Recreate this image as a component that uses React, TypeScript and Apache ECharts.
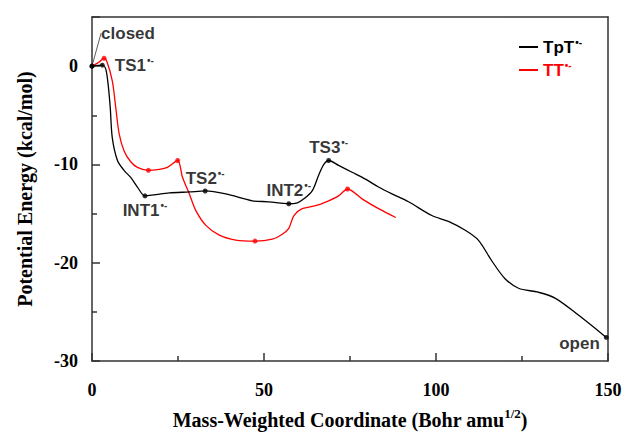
import React, { useEffect, useRef } from "react";
import * as echarts from "echarts";

// TpT•- pathway (x: mass-weighted coordinate, y: kcal/mol)
const tptX = [0, 3.0, 4.0, 4.7, 5.3, 5.9, 7.4, 9.3, 11.2, 13.2, 15.4, 18, 22.5, 28.3, 32.9, 38.9, 46.6, 51.4, 57.2, 59.7, 61.6, 64, 66, 67.4, 68.8, 71.7, 75.6, 79.5, 83.3, 87.2, 92, 98.8, 103.6, 108.5, 112.3, 116.2, 120, 124, 129.7, 134.6, 141.3, 149.5];
const tptY = [0, 0.1, -0.3, -1.9, -4.2, -7.3, -9.6, -10.6, -11.3, -12.3, -13.2, -13.1, -12.9, -12.8, -12.7, -13.0, -13.7, -13.8, -14.0, -13.9, -13.5, -12.7, -11.0, -10.0, -9.6, -10.1, -10.8, -11.5, -12.3, -13.0, -13.8, -15.2, -15.8, -16.7, -17.7, -19.8, -21.6, -22.6, -23.0, -23.6, -25.3, -27.6];

// TT•- pathway
const ttX = [0, 2, 3.5, 4.3, 5.9, 6.9, 7.9, 9.3, 11.2, 13.2, 16.4, 19.5, 21.9, 24.9, 26.3, 28.3, 30.2, 33.1, 37, 41.8, 47.4, 52.4, 55.3, 57.2, 58.7, 61.1, 65, 68.8, 71.7, 74.3, 78.5, 83.3, 88.3];
const ttY = [0, 0.4, 0.8, 0.5, -1.5, -4.2, -6.9, -8.6, -9.7, -10.3, -10.6, -10.5, -10.3, -9.6, -11.3, -13.0, -14.7, -16.2, -17.2, -17.7, -17.8, -17.6, -17.1, -16.5, -15.2, -14.5, -14.2, -13.7, -13.2, -12.5, -13.5, -14.5, -15.4];

// Stationary points
const tptKeyNames = ["closed", "TS1", "INT1", "TS2", "INT2", "TS3", "open"];
const tptKeyX = [0, 3.0, 15.4, 32.9, 57.2, 68.8, 149.5];
const tptKeyY = [0, 0.1, -13.2, -12.7, -14.0, -9.6, -27.6];
const ttKeyX = [3.5, 16.4, 24.9, 47.4, 74.3];
const ttKeyY = [0.8, -10.6, -9.6, -17.8, -12.5];

const seriesNames = ["TpT", "TT"];
const radicalSup = "•-";
const xTicks = [0, 50, 100, 150];
const yTicks = [-30, -20, -10, 0];

const SANS = "'Liberation Sans', Arial, sans-serif";
const SERIF = "'Liberation Serif', 'Times New Roman', serif";
const AXIS_COLOR = "#333";

const richStyles = {
  b: { fontFamily: SANS, fontSize: 17, fontWeight: "bold", color: "#000", lineHeight: 20 },
  s: { fontFamily: SANS, fontSize: 10, fontWeight: "bold", color: "#000", verticalAlign: "top", lineHeight: 20, padding: [0, 0, 8, 1] },
};

const labelPos: Record<string, any> = {
  closed: { position: "inside" },
  TS1: { position: "right", distance: 10 },
  INT1: { position: "bottom", distance: 2 },
  TS2: { position: "top", distance: 0 },
  INT2: { position: "top", distance: 1 },
  TS3: { position: "top", distance: 0 },
  open: { position: "left", distance: 4, offset: [0, 6] },
};

const frameAxis = {
  show: true,
  axisLine: { show: true, onZero: false, lineStyle: { color: AXIS_COLOR, width: 1.5 } },
  axisTick: { show: false },
  minorTick: { show: false },
  axisLabel: { show: false },
  splitLine: { show: false },
};

export default function App() {
  const ref = useRef<HTMLDivElement>(null);
  useEffect(() => {
    if (!ref.current) return;
    const chart = echarts.init(ref.current, undefined, { renderer: "svg" });
    const tptData = tptX.map((x, i) => [x, tptY[i]]);
    const ttData = ttX.map((x, i) => [x, ttY[i]]);
    const tptKeys = tptKeyNames.map((n, i) => {
      const isState = n === "closed" || n === "open";
      return {
        name: n,
        value: [tptKeyX[i], tptKeyY[i]],
        label: {
          show: n !== "closed",
          formatter: isState ? `{b|${n}}` : `{b|${n}}{s|${radicalSup}}`,
          rich: richStyles,
          ...labelPos[n],
        },
      };
    });
    const closedIdx = 0;
    chart.setOption({
      animation: false,
      grid: { left: 92, right: 17, top: 17, bottom: 71, outerBoundsMode: "none" },
      legend: {
        orient: "vertical",
        left: 514,
        top: 32,
        itemWidth: 19,
        itemHeight: 2,
        itemGap: 3,
        icon: "rect",
        data: [
          { name: seriesNames[0], itemStyle: { color: "#000" }, textStyle: { color: "#000" } },
          { name: seriesNames[1], itemStyle: { color: "#ff0000" }, textStyle: { color: "#ff0000" } },
        ],
        formatter: (name: string) => `{b|${name}}{s|${radicalSup}}`,
        textStyle: {
          fontFamily: SANS,
          fontWeight: "bold",
          fontSize: 17,
          lineHeight: 20,
          rich: {
            b: { fontFamily: SANS, fontSize: 17, fontWeight: "bold", lineHeight: 20 },
            s: { fontFamily: SANS, fontSize: 10, fontWeight: "bold", verticalAlign: "top", lineHeight: 20, padding: [0, 0, 8, 1] },
          },
        },
      },
      xAxis: [
        {
          type: "value",
          position: "bottom",
          min: xTicks[0],
          max: xTicks[xTicks.length - 1],
          interval: 50,
          name: "Mass-Weighted Coordinate (Bohr amu{s|1/2})",
          nameLocation: "middle",
          nameGap: 46,
          nameMoveOverlap: false,
          nameTextStyle: {
            fontFamily: SERIF,
            fontWeight: "bold",
            fontSize: 20,
            color: "#000",
            rich: { s: { fontFamily: SERIF, fontWeight: "bold", fontSize: 13, color: "#000", verticalAlign: "top", padding: [0, 0, 12, 0] } },
          },
          axisLine: { show: true, onZero: false, lineStyle: { color: AXIS_COLOR, width: 1.5 } },
          axisTick: { show: true, inside: true, length: 8, lineStyle: { color: AXIS_COLOR, width: 1.5 } },
          minorTick: { show: true, splitNumber: 2, length: 5, lineStyle: { color: AXIS_COLOR, width: 1.5 } },
          splitLine: { show: false },
          axisLabel: { fontFamily: SERIF, fontWeight: "bold", fontSize: 18, color: "#000", margin: 20 },
        },
        { type: "value", position: "top", min: xTicks[0], max: xTicks[xTicks.length - 1], ...frameAxis },
      ],
      yAxis: [
        {
          type: "value",
          position: "left",
          min: yTicks[0],
          max: 5,
          interval: 10,
          name: "Potential Energy (kcal/mol)",
          nameLocation: "middle",
          nameGap: 57,
          nameMoveOverlap: false,
          nameTextStyle: { fontFamily: SERIF, fontWeight: "bold", fontSize: 20, color: "#000" },
          axisLine: { show: true, onZero: false, lineStyle: { color: AXIS_COLOR, width: 1.5 } },
          axisTick: { show: true, inside: true, length: 8, lineStyle: { color: AXIS_COLOR, width: 1.5 } },
          minorTick: { show: true, splitNumber: 2, length: 5, lineStyle: { color: AXIS_COLOR, width: 1.5 } },
          splitLine: { show: false },
          axisLabel: {
            fontFamily: SERIF,
            fontWeight: "bold",
            fontSize: 18,
            color: "#000",
            margin: 14,
            formatter: (v: number) => (yTicks.includes(v) ? String(v) : ""),
          },
        },
        { type: "value", position: "right", min: yTicks[0], max: 5, ...frameAxis },
      ],
      series: [
        {
          name: seriesNames[0],
          type: "line",
          data: tptData,
          smooth: 0.3,
          showSymbol: false,
          lineStyle: { color: "#000", width: 1.3 },
          itemStyle: { color: "#000" },
          z: 3,
        },
        {
          name: seriesNames[1],
          type: "line",
          data: ttData,
          smooth: 0.3,
          showSymbol: false,
          lineStyle: { color: "#ff0000", width: 1.3 },
          itemStyle: { color: "#ff0000" },
          z: 2,
        },
        {
          type: "scatter",
          data: ttKeyX.map((x, i) => [x, ttKeyY[i]]),
          symbolSize: 5,
          itemStyle: { color: "#ff0000" },
          z: 4,
        },
        {
          type: "scatter",
          data: tptKeys,
          symbolSize: 5,
          itemStyle: { color: "#000" },
          z: 5,
        },
        {
          type: "scatter",
          data: [[tptKeyX[closedIdx], tptKeyY[closedIdx]]],
          symbolSize: 5,
          itemStyle: { color: "#000" },
          label: {
            show: true,
            position: "inside",
            formatter: `{b|${tptKeyNames[closedIdx]}}`,
            rich: richStyles,
          },
          labelLayout: { dx: 36, dy: -33 },
          labelLine: { show: true, length2: 0, lineStyle: { color: "#333", width: 0.8 } },
          z: 6,
        },
      ],
    });
    return () => chart.dispose();
  }, []);
  return <div ref={ref} style={{ width: 625, height: 432, position: "absolute", left: 0, top: 0 }} />;
}
